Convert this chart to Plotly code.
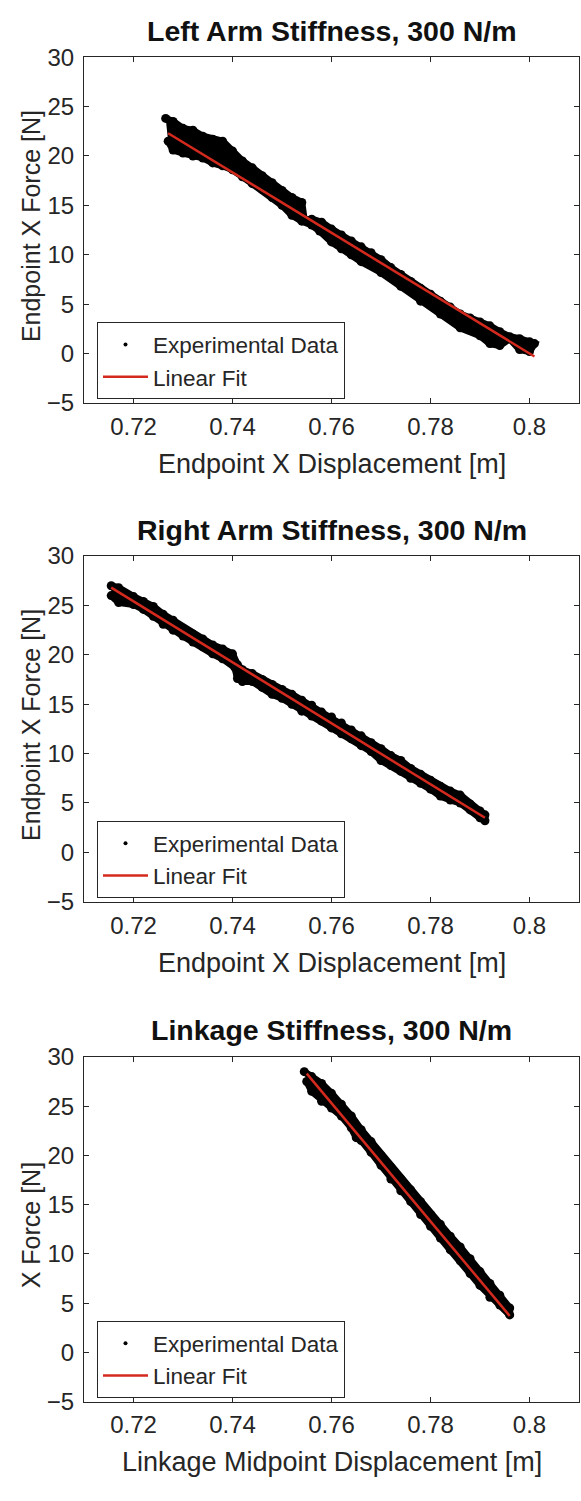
import plotly.graph_objects as go

W, H = 581, 1501

# ---------------- data ----------------
# Left arm: upper and lower edges of the hysteresis band
left_up_x = [0.7265, 0.728, 0.730, 0.732, 0.734, 0.736, 0.738, 0.740, 0.742, 0.744, 0.746, 0.748,
             0.750, 0.752, 0.754, 0.7545, 0.756, 0.758, 0.760, 0.762, 0.764, 0.766, 0.768, 0.770,
             0.772, 0.774, 0.776, 0.778, 0.780, 0.782, 0.784, 0.786, 0.788, 0.790, 0.792, 0.794,
             0.796, 0.798, 0.800, 0.801]
left_up_y = [23.8, 23.5, 22.8, 22.6, 22.0, 21.7, 21.5, 20.5, 19.5, 18.8, 18.0, 17.3,
             16.5, 15.8, 15.3, 13.5, 13.6, 13.3, 12.6, 12.0, 11.4, 10.8, 10.2, 9.5,
             8.7, 8.0, 7.3, 6.6, 6.0, 5.3, 4.7, 4.0, 3.6, 3.2, 2.8, 2.2,
             1.7, 1.5, 1.2, 1.0]
left_lo_x = [0.727, 0.728, 0.730, 0.732, 0.734, 0.736, 0.738, 0.740, 0.742, 0.744, 0.746, 0.748,
             0.750, 0.752, 0.754, 0.756, 0.7576, 0.760, 0.762, 0.764, 0.766, 0.770, 0.774, 0.778,
             0.782, 0.786, 0.790, 0.792, 0.794, 0.796, 0.798, 0.800]
left_lo_y = [21.5, 20.6, 20.3, 20.0, 19.8, 19.3, 19.0, 18.6, 17.9, 17.2, 16.6, 15.8,
             15.0, 14.0, 13.4, 13.0, 12.4, 11.3, 10.6, 10.0, 9.3, 8.2, 6.8, 5.3,
             4.0, 2.6, 1.8, 1.0, 0.8, 1.5, 0.4, 0.2]
left_fit_x = [0.727, 0.801]
left_fit_y = [22.3, -0.3]

# Right arm
right_up_x = [0.7155, 0.717, 0.720, 0.722, 0.724, 0.726, 0.728, 0.730, 0.732, 0.734, 0.736, 0.738,
              0.740, 0.741, 0.742, 0.744, 0.746, 0.748, 0.750, 0.752, 0.754, 0.756, 0.758, 0.760,
              0.762, 0.764, 0.766, 0.768, 0.770, 0.772, 0.774, 0.776, 0.778, 0.780, 0.782, 0.784,
              0.786, 0.788, 0.790, 0.791]
right_up_y = [27.0, 26.8, 25.9, 25.4, 24.9, 24.1, 23.5, 22.7, 22.1, 21.6, 21.0, 20.6,
              20.1, 19.0, 18.5, 18.1, 17.5, 17.0, 16.5, 16.0, 15.4, 14.9, 14.2, 13.7,
              13.1, 12.4, 11.8, 11.1, 10.5, 9.8, 9.3, 8.5, 7.9, 7.3, 6.7, 6.2,
              5.8, 4.9, 4.2, 3.8]
right_lo_x = [0.7155, 0.717, 0.720, 0.722, 0.724, 0.726, 0.728, 0.730, 0.732, 0.734, 0.736, 0.738,
              0.7405, 0.741, 0.742, 0.744, 0.746, 0.748, 0.750, 0.752, 0.754, 0.756, 0.758, 0.760,
              0.762, 0.764, 0.766, 0.768, 0.770, 0.772, 0.774, 0.776, 0.778, 0.780, 0.782, 0.784,
              0.786, 0.788, 0.790, 0.791]
right_lo_y = [26.0, 25.3, 25.1, 24.6, 23.9, 23.1, 22.5, 21.9, 21.3, 20.8, 20.1, 19.6,
              18.7, 17.6, 17.3, 17.3, 16.7, 16.0, 15.6, 15.0, 14.3, 13.8, 13.3, 12.6,
              12.0, 11.5, 10.8, 10.2, 9.3, 8.8, 8.2, 7.5, 7.0, 6.4, 5.7, 5.3,
              5.0, 4.3, 3.5, 3.2]
right_fit_x = [0.7155, 0.791]
right_fit_y = [26.8, 3.5]

# Linkage
link_up_x = [0.7545, 0.756, 0.758, 0.760, 0.762, 0.764, 0.766, 0.768, 0.770, 0.772, 0.774,
             0.776, 0.778, 0.780, 0.782, 0.784, 0.786, 0.788, 0.790, 0.792, 0.794, 0.796]
link_up_y = [28.5, 28.0, 27.3, 26.3, 25.2, 24.0, 22.6, 21.4, 20.0, 18.8, 17.6,
             16.5, 15.3, 14.0, 13.0, 11.8, 10.7, 9.5, 8.2, 7.0, 5.8, 4.5]
link_lo_x = [0.755, 0.756, 0.758, 0.760, 0.762, 0.764, 0.765, 0.766, 0.768, 0.770, 0.772, 0.774,
             0.776, 0.778, 0.780, 0.782, 0.784, 0.786, 0.788, 0.790, 0.792, 0.794, 0.796]
link_lo_y = [27.5, 26.5, 25.5, 24.8, 24.0, 22.8, 21.8, 21.5, 20.3, 19.0, 17.6, 16.4,
             15.3, 14.0, 12.8, 11.6, 10.4, 9.3, 8.0, 6.8, 5.6, 4.8, 3.8]
link_fit_x = [0.755, 0.796]
link_fit_y = [28.3, 3.7]

titles = ["Left Arm Stiffness, 300 N/m", "Right Arm Stiffness, 300 N/m", "Linkage Stiffness, 300 N/m"]
xlabels = ["Endpoint X Displacement [m]", "Endpoint X Displacement [m]", "Linkage Midpoint Displacement [m]"]
ylabels = ["Endpoint X Force [N]", "Endpoint X Force [N]", "X Force [N]"]
x_tickvals = [0.72, 0.74, 0.76, 0.78, 0.80]
x_ticktext = ["0.72", "0.74", "0.76", "0.78", "0.8"]
y_tickvals = [-5, 0, 5, 10, 15, 20, 25, 30]
x_range = [0.71, 0.81]
y_range = [-5, 30]

# ---------------- layout geometry (pixels) ----------------
X_L, X_R = 84, 579
PLOT_TOPS = [44, 552, 1062]
PLOT_BOTS = [396, 904, 1413]

def py(p):
    return 1 - p / H

def px(p):
    return p / W

FONT = "Liberation Sans, Arial, sans-serif"
TXT = "#262626"
FIT_COLOR = "#d42a1e"

fig = go.Figure()

sets = [
    (left_up_x, left_up_y, left_lo_x, left_lo_y, left_fit_x, left_fit_y),
    (right_up_x, right_up_y, right_lo_x, right_lo_y, right_fit_x, right_fit_y),
    (link_up_x, link_up_y, link_lo_x, link_lo_y, link_fit_x, link_fit_y),
]

annotations = []
for i, (ux, uy, lx, ly, fx, fy) in enumerate(sets):
    k = "" if i == 0 else str(i + 1)
    xa, ya = "x" + k, "y" + k
    leg = "legend" + k
    # band of experimental data: upper edge then lower edge back, filled
    bx = list(ux) + list(lx)[::-1]
    by = list(uy) + list(ly)[::-1]
    fig.add_trace(go.Scatter(x=bx, y=by, mode="lines+markers", xaxis=xa, yaxis=ya,
                             fill="toself", fillcolor="black",
                             line=dict(color="black", width=7),
                             marker=dict(color="black", size=9),
                             showlegend=False, hoverinfo="skip"))
    # legend entry for experimental data (small dots)
    fig.add_trace(go.Scatter(x=[None], y=[None], mode="markers", xaxis=xa, yaxis=ya,
                             marker=dict(color="black", size=4), name="Experimental Data",
                             legend=leg, showlegend=True))
    fig.add_trace(go.Scatter(x=fx, y=fy, mode="lines", xaxis=xa, yaxis=ya,
                             line=dict(color=FIT_COLOR, width=2.5), name="Linear Fit",
                             legend=leg, showlegend=True))

    axis_common = dict(showline=True, linecolor=TXT, linewidth=1, mirror="ticks",
                       ticks="inside", ticklen=5, tickcolor=TXT, showgrid=False,
                       zeroline=False, tickfont=dict(family=FONT, size=24, color=TXT))
    fig.layout["xaxis" + k] = dict(domain=[px(X_L), px(X_R)], range=x_range, anchor=ya,
                                   tickvals=x_tickvals, ticktext=x_ticktext,
                                   ticklabelstandoff=2, **axis_common)
    fig.layout["yaxis" + k] = dict(domain=[py(PLOT_BOTS[i]), py(PLOT_TOPS[i])], range=y_range,
                                   anchor=xa, tickvals=y_tickvals, ticklabelstandoff=4,
                                   **axis_common)
    top, bot = PLOT_TOPS[i], PLOT_BOTS[i]
    annotations.append(dict(text="<b>" + titles[i] + "</b>", xref="paper", yref="paper",
                            x=px((X_L + X_R) / 2), y=py(top - 27), xanchor="center", yanchor="middle",
                            showarrow=False, font=dict(family=FONT, size=28.5, color="#111111")))
    annotations.append(dict(text=xlabels[i], xref="paper", yref="paper",
                            x=px((X_L + X_R) / 2), y=py(bot + 62), xanchor="center", yanchor="middle",
                            showarrow=False, font=dict(family=FONT, size=27, color=TXT)))
    annotations.append(dict(text=ylabels[i], xref="paper", yref="paper", textangle=-90,
                            x=px(31), y=py((top + bot) / 2 - 4), xanchor="center", yanchor="middle",
                            showarrow=False, font=dict(family=FONT, size=25, color=TXT)))
    fig.layout[leg] = dict(x=px(97), y=py(bot - 82), xref="paper", yref="paper",
                           xanchor="left", yanchor="top", bgcolor="white",
                           bordercolor=TXT, borderwidth=1, itemwidth=45,
                           tracegroupgap=0,
                           font=dict(family=FONT, size=22.5, color=TXT))

fig.update_layout(width=W, height=H, margin=dict(l=0, r=0, t=0, b=0),
                  paper_bgcolor="white", plot_bgcolor="white",
                  annotations=annotations, showlegend=True)

fig.write_html("out.html")
